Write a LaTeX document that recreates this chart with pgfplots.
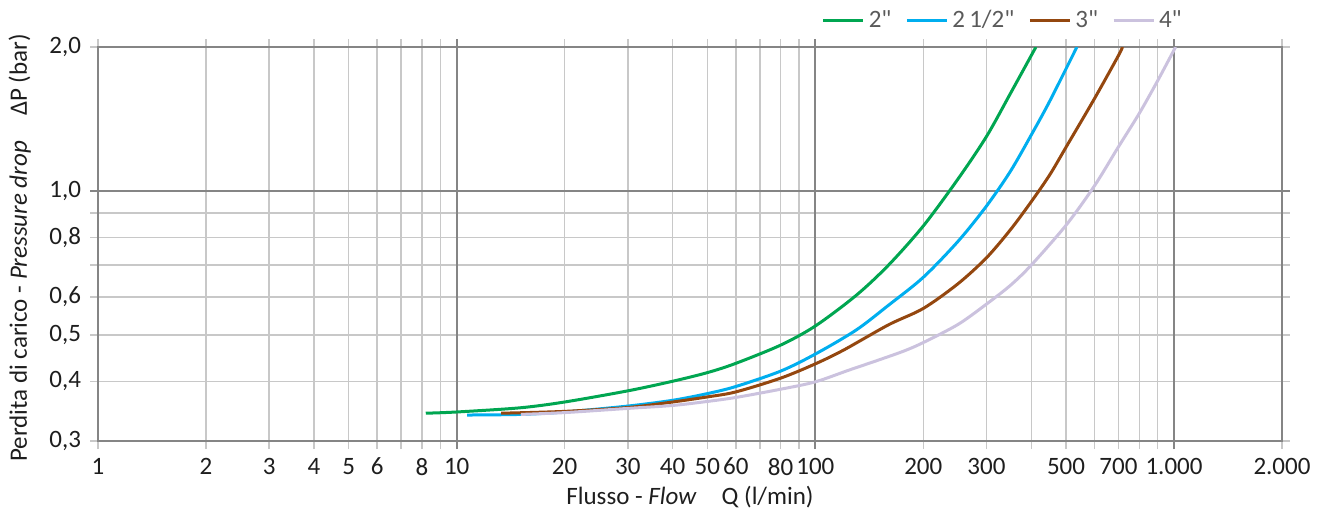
\documentclass[border=0pt]{standalone}
\usepackage{fontspec}
\setmainfont{Carlito}[Ligatures=TeXOff]
\usepackage{pgfplots}
\pgfplotsset{compat=1.18}
\definecolor{cgreen}{HTML}{00A651}
\definecolor{ccyan}{HTML}{00AEEF}
\definecolor{cbrown}{HTML}{94470F}
\definecolor{clav}{HTML}{CBC2DE}
\definecolor{gridlight}{HTML}{C8C8C8}
\definecolor{griddark}{HTML}{858585}
\definecolor{labgray}{HTML}{5A5A5A}
\definecolor{txt}{HTML}{1E1E1E}

\begin{document}
\begin{tikzpicture}
\begin{axis}[
    at={(0pt,0pt)}, anchor=south west,
    scale only axis, width=592pt, height=197pt,
    xmode=log, ymode=log,
    xmin=1, xmax=2000, ymin=0.3, ymax=2,
    font=\fontsize{12.5}{14}\selectfont,
    xtick={1,2,3,4,5,6,8,10,20,30,40,50,60,80,100,200,300,500,700,1000,2000},
    xticklabels={1,2,3,4,5,6,8,10,20,30,40,50,60,80,100,200,300,500,700,1.000,2.000},
    minor xtick={7,9,70,90,400,600,800,900},
    ytick={0.3,0.4,0.5,0.6,0.8,1,2},
    yticklabels={{0,3},{0,4},{0,5},{0,6},{0,8},{1,0},{2,0}},
    minor ytick={0.7,0.9},
    extra x ticks={10,100,1000},
    extra x tick labels={},
    extra x tick style={grid=major, major grid style={draw=griddark, line width=1pt}, tick style={draw=griddark, line width=1pt}},
    extra y ticks={1},
    extra y tick labels={},
    extra y tick style={grid=major, major grid style={draw=griddark, line width=1pt}, tick style={draw=griddark, line width=1pt}},
    grid=both,
    major grid style={draw=gridlight, line width=0.75pt},
    minor grid style={draw=gridlight, line width=0.75pt},
    tick align=outside,
    major tick length=4pt, minor tick length=4pt,
    every tick/.style={draw=gridlight, line width=0.75pt},
    axis line style={draw=griddark, line width=1pt},
    ticklabel style={text=txt},
    xticklabel style={yshift=-1pt},
    yticklabel style={xshift=-1pt},
    xlabel={Flusso - \textit{Flow}\quad Q (l/min)},
    ylabel={Perdita di carico - \textit{Pressure drop}\quad ΔP (bar)},
    xlabel style={at={(axis description cs:0.5,-0.142)}, anchor=center, text=txt},
    ylabel style={at={(axis description cs:-0.066,0.49)}, anchor=center, text=txt},
    legend columns=4,
    legend style={at={(axis description cs:0.765,1.068)}, anchor=center, draw=none, fill=none,
        text=labgray, inner sep=0pt,
        /tikz/every even column/.append style={column sep=5pt}},
    legend image code/.code={\draw[#1] (0pt,0pt) -- (20pt,0pt);},
]
\addplot[cgreen, line width=1.5pt, smooth] coordinates {
    (8.2,0.343) (10,0.345) (15,0.352) (20,0.362) (30,0.382) (40,0.400)
    (50,0.417) (60,0.436) (80,0.476) (100,0.522) (130,0.605) (160,0.70)
    (200,0.845) (250,1.06) (300,1.30) (350,1.60) (412,2.0)
};
\addlegendentry{2"}
\addplot[ccyan, line width=1.5pt, smooth] coordinates {
    (10.7,0.340) (15,0.341) (20,0.345) (30,0.355) (40,0.365) (50,0.377)
    (60,0.390) (80,0.420) (100,0.456) (130,0.512) (160,0.577) (200,0.66)
    (250,0.785) (300,0.93) (350,1.10) (400,1.31) (450,1.54) (536,2.0)
};
\addlegendentry{2\,1/2"}
\addplot[cbrown, line width=1.5pt, smooth] coordinates {
    (13.3,0.343) (20,0.346) (30,0.3525) (40,0.362) (50,0.371) (60,0.380)
    (80,0.406) (100,0.435) (120,0.465) (160,0.525) (200,0.568) (250,0.64)
    (300,0.725) (350,0.83) (400,0.95) (450,1.08) (500,1.235) (600,1.56)
    (700,1.92) (718,2.0)
};
\addlegendentry{3"}
\addplot[clav, line width=1.5pt, smooth] coordinates {
    (15.1,0.341) (20,0.344) (30,0.351) (40,0.356) (50,0.363) (60,0.370)
    (80,0.385) (100,0.399) (124,0.422) (150,0.443) (177,0.463) (200,0.482)
    (250,0.526) (300,0.58) (350,0.635) (400,0.70) (500,0.848) (600,1.025)
    (700,1.237) (800,1.453) (900,1.70) (1010,2.0)
};
\addlegendentry{4"}
\end{axis}
\path (-49pt,-37.5pt) rectangle (610.5pt,220.5pt);
\end{tikzpicture}
\end{document}
